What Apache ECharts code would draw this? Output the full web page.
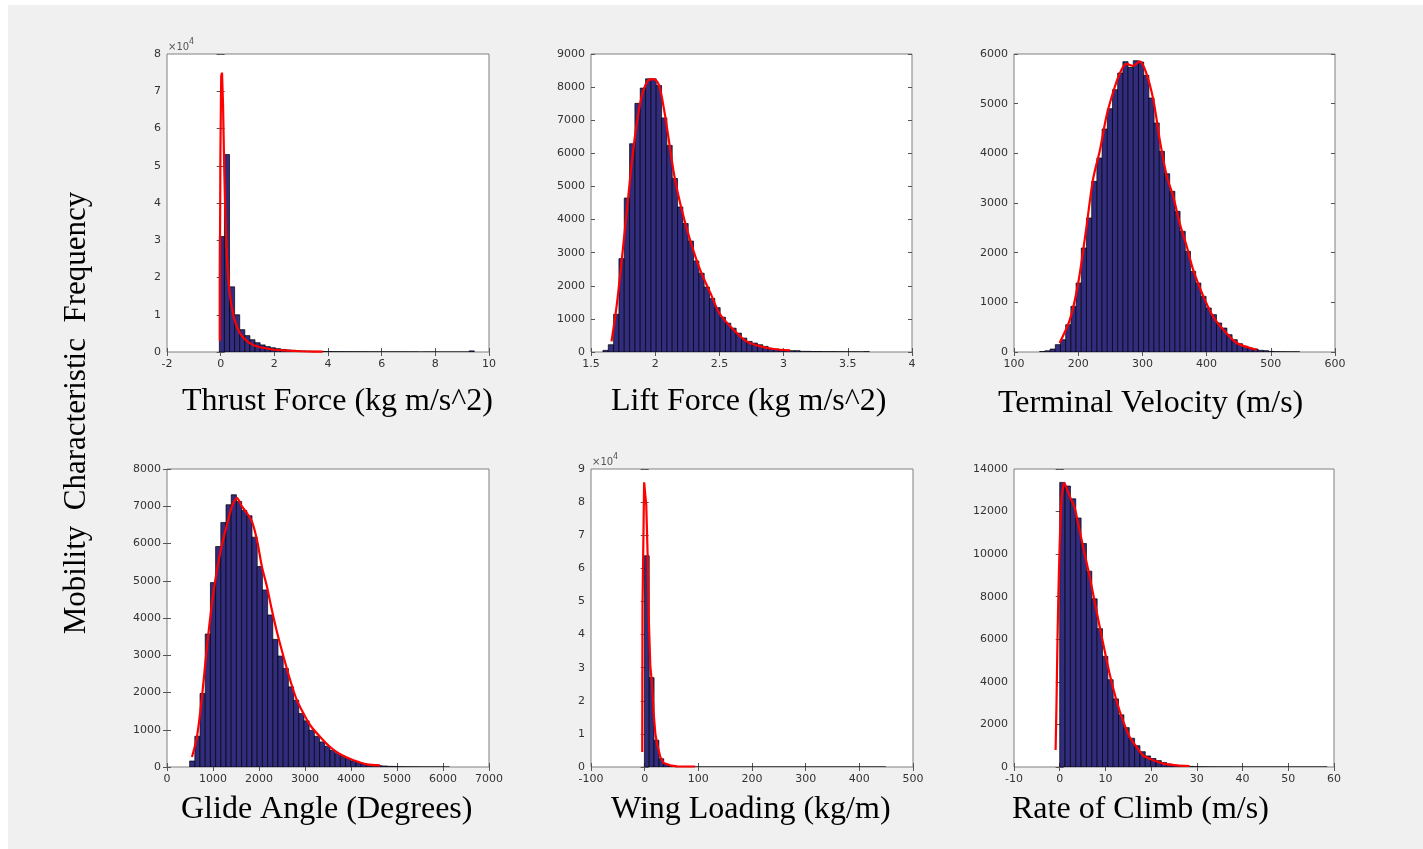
<!DOCTYPE html>
<html>
<head>
<meta charset="utf-8">
<script src="https://cdn.jsdelivr.net/npm/echarts@6/dist/echarts.min.js"></script>
<style>
  html, body { margin: 0; padding: 0; background: #ffffff; }
  #chart { width: 1423px; height: 849px; }
</style>
</head>
<body>
<div id="chart"></div>
<script>
// ---- Histogram bins: [first edge, bin width] and counts per bin ----
const thrustBins = [-0.05, 0.19];
const thrustCounts = [31000, 53000, 17500, 10000, 6000, 4400, 3300, 2500, 1900, 1450,
  1150, 900, 700, 560, 450, 360, 290, 240, 200, 170,
  140, 120, 100, 90, 80, 70, 65, 60, 55, 50,
  45, 40, 40, 35, 35, 30, 30, 25, 25, 0,
  20, 20, 15, 0, 0, 0, 0, 0, 0, 300];

const liftBins = [1.593, 0.0415];
const liftCounts = [50, 220, 1140, 2820, 4650, 6290, 7510, 7970, 8250, 8250,
  8050, 7070, 6240, 5240, 4380, 3880, 3350, 2750, 2380, 1960,
  1620, 1340, 1050, 870, 720, 570, 420, 320, 270, 220,
  170, 110, 90, 70, 50, 40, 40, 20, 20, 15,
  15, 10, 10, 10, 8, 5, 5, 5, 3, 10];

const velocityBins = [140, 8.1];
const velocityCounts = [10, 25, 60, 148, 248, 550, 919, 1389, 2094, 2698,
  3436, 3906, 4490, 4899, 5282, 5617, 5846, 5731, 5866, 5839,
  5570, 5114, 4611, 4040, 3590, 3235, 2832, 2430, 2027, 1624,
  1389, 1121, 886, 752, 584, 483, 349, 248, 168, 114,
  80, 60, 34, 27, 13, 7, 5, 4, 3, 3];

const glideBins = [492, 113];
const glideCounts = [161, 825, 1973, 3570, 4950, 5919, 6565, 7040, 7309, 7130,
  6888, 6744, 6170, 5381, 4753, 4081, 3426, 2978, 2646, 2152,
  1794, 1435, 1238, 987, 825, 673, 556, 448, 359, 287,
  224, 161, 117, 90, 63, 45, 36, 27, 18, 15,
  8, 5, 4, 3, 2, 2, 1, 1, 1, 1];

const wingBins = [-0.5, 9];
const wingCounts = [63800, 27000, 8100, 2500, 800, 300, 120, 60, 35, 20,
  15, 10, 8, 6, 5, 4, 3, 3, 2, 2,
  2, 1, 1, 1, 1, 1, 0, 0, 1, 0,
  0, 0, 1, 0, 0, 0, 0, 1, 0, 0,
  0, 0, 0, 0, 1, 0, 0, 0, 0, 1];

const climbBins = [0, 1.17];
const climbCounts = [13370, 13200, 12600, 11700, 10500, 9200, 7900, 6500, 5200, 4100,
  3200, 2450, 1850, 1350, 1000, 720, 520, 400, 300, 210,
  140, 90, 60, 42, 28, 16, 10, 7, 5, 3,
  2, 2, 1, 1, 1, 1, 0, 1, 0, 0,
  1, 0, 0, 0, 0, 1, 0, 0, 0, 1];

// ---- Fitted density curves, [x, count] ----
const thrustFit = [[-0.03, 3000], [-0.03, 19000], [-0.01, 53000], [0.02, 74000], [0.05, 75000],
  [0.09, 66000], [0.13, 50000], [0.18, 36000], [0.23, 26000], [0.28, 20000], [0.34, 15500],
  [0.4, 12500], [0.5, 9000], [0.6, 6800], [0.7, 5300], [0.8, 4200], [1.0, 2800], [1.2, 1900],
  [1.5, 1200], [2.0, 600], [2.5, 350], [3.0, 200], [3.5, 120], [3.8, 90]];
const liftFit = [[1.66, 320], [1.70, 1400], [1.74, 2800], [1.78, 4300], [1.82, 5800], [1.86, 7000],
  [1.90, 7800], [1.95, 8220], [1.99, 8240], [2.03, 8050], [2.07, 7300], [2.11, 6300], [2.15, 5300],
  [2.20, 4400], [2.27, 3400], [2.35, 2480], [2.43, 1780], [2.50, 1170], [2.61, 670], [2.71, 320],
  [2.82, 170], [2.92, 90], [3.05, 50]];
const velocityFit = [[171, 181], [187, 651], [200, 1389], [213, 2530], [223, 3470], [234, 4074],
  [244, 4745], [254, 5215], [265, 5617], [275, 5800], [285, 5760], [296, 5850], [306, 5617],
  [317, 5081], [327, 4275], [338, 3537], [348, 3134], [358, 2597], [369, 2128], [379, 1658],
  [395, 1121], [410, 718], [426, 450], [447, 181], [468, 81], [478, 47]];
const glideFit = [[543, 269], [651, 807], [760, 1883], [869, 3229], [977, 4395], [1086, 5291],
  [1194, 5964], [1303, 6502], [1412, 6996], [1520, 7220], [1629, 6996], [1737, 6816], [1846, 6592],
  [1955, 6099], [2063, 5381], [2172, 4843], [2280, 4215], [2389, 3632], [2534, 2960], [2678, 2332],
  [2823, 1794], [2968, 1435], [3113, 1121], [3330, 807], [3547, 538], [3764, 341], [4054, 179],
  [4343, 72], [4633, 45]];
const wingFit = [[-4.5, 4500], [-4, 49000], [-1, 86000], [1, 86000], [3, 79000], [5.6, 63600],
  [7.5, 45400], [10.6, 30300], [13.7, 25200], [16.8, 16100], [19.9, 10100], [23, 7100],
  [29.2, 3000], [35.4, 1200], [47.8, 500], [60, 200], [94, 150]];
const climbFit = [[-0.9, 800], [-0.7, 3000], [-0.5, 5800], [-0.3, 8000], [0, 10500], [0.4, 12600],
  [1.0, 13350], [2.2, 12714], [3.3, 12165], [4.0, 11460], [5.1, 10360], [6.55, 8947], [8.0, 7377],
  [9.5, 5807], [10.9, 4395], [12.4, 3139], [13.8, 2197], [15.3, 1413], [16.8, 942], [18.2, 549],
  [19.7, 392], [21.1, 267], [22.6, 157], [25.5, 78], [28.4, 47]];

// ---- Axis titles ----
const xTitles = ['Thrust Force (kg m/s^2)', 'Lift Force (kg m/s^2)', 'Terminal Velocity (m/s)',
  'Glide Angle (Degrees)', 'Wing Loading (kg/m)', 'Rate of Climb (m/s)'];
const yTitle = 'Mobility  Characteristic  Frequency';

// ---- Axis ranges: [min, max, interval] ----
const xRanges = [[-2, 10, 2], [1.5, 4, 0.5], [100, 600, 100], [0, 7000, 1000], [-100, 500, 100], [-10, 60, 10]];
const yRanges = [[0, 80000, 10000], [0, 9000, 1000], [0, 6000, 1000], [0, 8000, 1000], [0, 90000, 10000], [0, 14000, 2000]];
const yScaled = [true, false, false, false, true, false];

const panels = [
  { bins: thrustBins, counts: thrustCounts, fit: thrustFit, smooth: false },
  { bins: liftBins, counts: liftCounts, fit: liftFit, smooth: 0.3 },
  { bins: velocityBins, counts: velocityCounts, fit: velocityFit, smooth: 0.3 },
  { bins: glideBins, counts: glideCounts, fit: glideFit, smooth: 0.3 },
  { bins: wingBins, counts: wingCounts, fit: wingFit, smooth: false },
  { bins: climbBins, counts: climbCounts, fit: climbFit, smooth: 0.2 }
];

// Layout of the six axes boxes
const boxes = [
  { left: 167, top: 54, width: 322, height: 298 },
  { left: 591, top: 54, width: 321, height: 298 },
  { left: 1014, top: 54, width: 321, height: 298 },
  { left: 167, top: 469, width: 322, height: 298 },
  { left: 591, top: 469, width: 322, height: 298 },
  { left: 1014, top: 469, width: 320, height: 298 }
];
const titlePos = [[182, 402], [611, 402], [998, 404], [181, 810], [611, 810], [1012, 810]];

const AXIS = '#808080';
const TICKTEXT = '#333333';
const TICKFONT = 'DejaVu Sans';
const SERIF = 'Liberation Serif';

const plain = v => String(Math.round(v * 1000) / 1000);

const grid = [], xAxis = [], yAxis = [], series = [];

boxes.forEach((b, k) => {
  grid.push({
    left: b.left, top: b.top, width: b.width, height: b.height,
    show: true, backgroundColor: '#ffffff', borderColor: AXIS, borderWidth: 1
  });
  const [xmin, xmax, xint] = xRanges[k];
  const [ymin, ymax, yint] = yRanges[k];
  const tick = { show: true, inside: true, length: 4, lineStyle: { color: '#555', width: 1 } };
  xAxis.push({
    type: 'value', gridIndex: k, min: xmin, max: xmax, interval: xint, position: 'bottom',
    axisLine: { show: false }, axisTick: tick, splitLine: { show: false },
    axisLabel: { margin: 7, color: TICKTEXT, fontFamily: TICKFONT, fontSize: 11, formatter: plain }
  });
  xAxis.push({
    type: 'value', gridIndex: k, min: xmin, max: xmax, interval: xint, position: 'top',
    axisLine: { show: false }, axisTick: tick, splitLine: { show: false }, axisLabel: { show: false }
  });
  yAxis.push({
    type: 'value', gridIndex: k, min: ymin, max: ymax, interval: yint, position: 'left',
    axisLine: { show: false }, axisTick: tick, splitLine: { show: false },
    axisLabel: {
      margin: 6, color: TICKTEXT, fontFamily: TICKFONT, fontSize: 11,
      formatter: yScaled[k] ? (v => plain(v / 10000)) : plain
    }
  });
  yAxis.push({
    type: 'value', gridIndex: k, min: ymin, max: ymax, interval: yint, position: 'right',
    axisLine: { show: false }, axisTick: tick, splitLine: { show: false }, axisLabel: { show: false }
  });

  const p = panels[k];
  const [lo, w] = p.bins;
  const histData = p.counts.map((c, i) => [lo + i * w, lo + (i + 1) * w, c]);
  series.push({
    type: 'custom', xAxisIndex: 2 * k, yAxisIndex: 2 * k, data: histData,
    encode: { x: [0, 1], y: 2 }, clip: true, silent: true,
    renderItem: (params, api) => {
      const a = api.coord([api.value(0), api.value(2)]);
      const b2 = api.coord([api.value(1), 0]);
      return {
        type: 'rect',
        shape: { x: a[0], y: a[1], width: b2[0] - a[0], height: b2[1] - a[1] },
        style: { fill: '#312c7e', stroke: '#000000', lineWidth: 0.7 }
      };
    }
  });
  series.push({
    type: 'line', xAxisIndex: 2 * k, yAxisIndex: 2 * k, data: p.fit,
    showSymbol: false, smooth: p.smooth, silent: true, z: 5,
    lineStyle: { color: '#ff0000', width: 2.2 }
  });
});

const graphic = [
  { type: 'rect', left: 8, top: 5, shape: { width: 1415, height: 844 }, style: { fill: '#f0f0f0' }, z: -10, silent: true },
  {
    type: 'text', x: 77, y: 413, rotation: Math.PI / 2,
    style: { text: yTitle, font: '31px "' + SERIF + '"', fill: '#000', align: 'center', verticalAlign: 'middle' }
  }
];
xTitles.forEach((t, k) => {
  graphic.push({
    type: 'text', x: titlePos[k][0], y: titlePos[k][1],
    style: { text: t, font: '32px "' + SERIF + '"', fill: '#000', align: 'left', verticalAlign: 'middle' }
  });
});
// exponent markers for the scaled count axes
[0, 4].forEach(k => {
  const b = boxes[k];
  graphic.push({ type: 'text', x: b.left + 1, y: b.top - 7,
    style: { text: '×10', font: '10px "' + TICKFONT + '"', fill: '#555', align: 'left', verticalAlign: 'middle' } });
  graphic.push({ type: 'text', x: b.left + 22, y: b.top - 12,
    style: { text: '4', font: '8px "' + TICKFONT + '"', fill: '#555', align: 'left', verticalAlign: 'middle' } });
});

const chart = echarts.init(document.getElementById('chart'), null, { renderer: 'canvas' });
chart.setOption({
  backgroundColor: '#ffffff',
  animation: false,
  grid, xAxis, yAxis, series, graphic
});
</script>
</body>
</html>
